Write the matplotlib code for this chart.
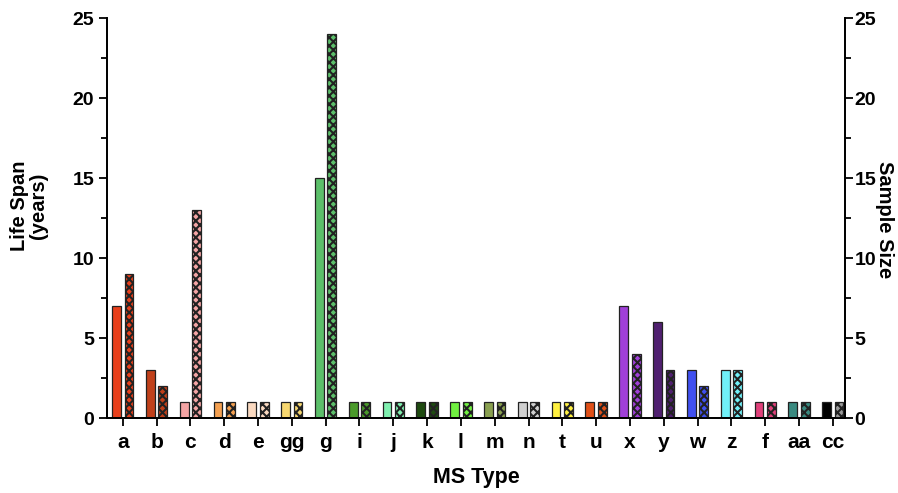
from matplotlib import pyplot as plt
from matplotlib.ticker import MultipleLocator
import numpy as np

types = ['a', 'b', 'c', 'd', 'e', 'gg', 'g', 'i', 'j', 'k', 'l', 'm', 'n', 't',
         'u', 'x', 'y', 'w', 'z', 'f', 'aa', 'cc']
life_span = [7, 3, 1, 1, 1, 1, 15, 1, 1, 1, 1, 1, 1, 1, 1, 7, 6, 3, 3, 1, 1, 1]
sample_size = [9, 2, 13, 1, 1, 1, 24, 1, 1, 1, 1, 1, 1, 1, 1, 4, 3, 2, 3, 1, 1, 1]
colors = ['#E8401C', '#C0401A', '#F4A4A4', '#F4A050', '#FAD9C0', '#F8D870',
          '#5CBF6A', '#4A9A2A', '#80F0B0', '#1E4A10', '#70F040', '#8AA050',
          '#D0D0D0', '#FFF040', '#E05018', '#A040D8', '#502070', '#4050F0',
          '#70F0F8', '#E0407A', '#3A8A80', '#000000']
sample_colors = colors[:-1] + ['#9A9A9A']

plt.rcParams['font.family'] = ['Liberation Sans', 'DejaVu Sans']
plt.rcParams['font.weight'] = 'bold'
plt.rcParams['hatch.linewidth'] = 1.5

fig = plt.figure(figsize=(8.98, 4.93), dpi=100)
ax = fig.add_axes([0.119, 0.152, 0.822, 0.811])
ax2 = ax.twinx()

x = np.arange(len(types))
w = 0.26
off = 0.185
ax.bar(x - off, life_span, width=w, color=colors, edgecolor='#222222', linewidth=0.9)
ax2.bar(x + off, sample_size, width=w, color=sample_colors, edgecolor='#222222',
        linewidth=0.9, hatch='xxxx')

for a in (ax, ax2):
    a.set_ylim(0, 25)
    a.yaxis.set_major_locator(MultipleLocator(5))
    a.yaxis.set_minor_locator(MultipleLocator(2.5))
    a.tick_params(axis='y', which='major', length=6, width=1.3, labelsize=14)
    a.tick_params(axis='y', which='minor', length=4, width=1.3)
    a.spines['top'].set_visible(False)
    for s in a.spines.values():
        s.set_linewidth(1.3)

ax.set_xlim(-0.47, len(types) - 1 + 0.36)
ax.set_xticks(x)
ax.set_xticklabels(types)
ax.tick_params(axis='x', length=6, width=1.3, labelsize=15, pad=5)
ax.tick_params(axis='y', pad=3)
ax2.tick_params(axis='y', pad=1)

ax.set_xlabel('MS Type', fontsize=15.5, fontweight='bold')
ax.xaxis.set_label_coords(0.5, -0.122)
ax.set_ylabel('Life Span\n(years)', fontsize=14.5, fontweight='bold',
              linespacing=1.0, va='center')
ax.yaxis.set_label_coords(-0.106, 0.53)
ax2.set_ylabel('Sample Size', fontsize=14.5, fontweight='bold', rotation=-90, va='center')
ax2.yaxis.set_label_coords(1.053, 0.497)

plt.savefig('out.png', dpi=100)
